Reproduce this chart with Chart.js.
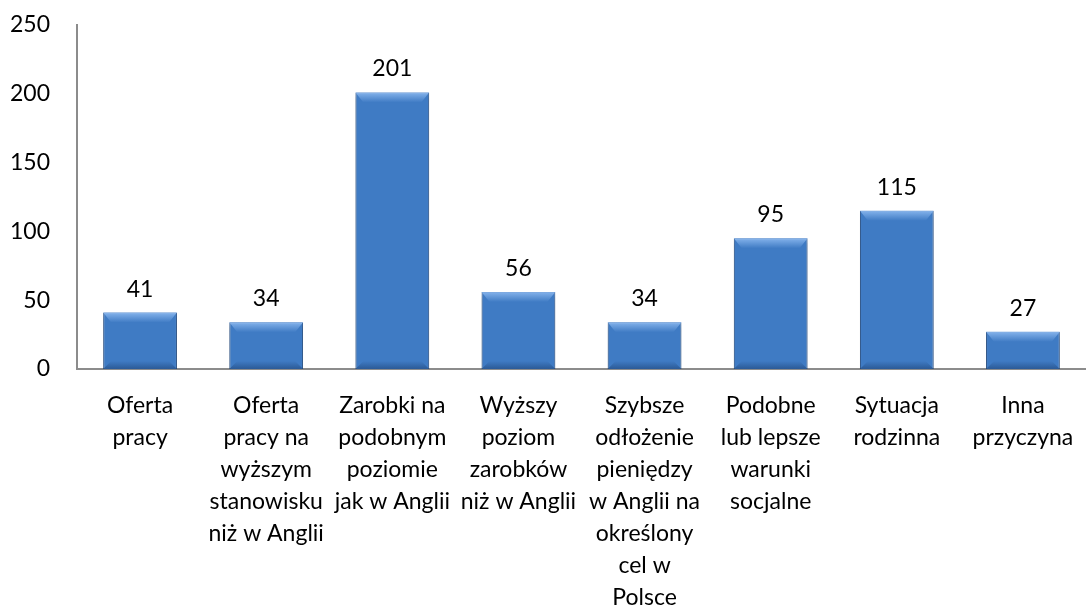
<!DOCTYPE html>
<html>
<head>
<meta charset="utf-8">
<script src="https://cdn.jsdelivr.net/npm/chart.js@4"></script>
<style>
  html, body { margin: 0; padding: 0; background: #fff; }
  #wrap { width: 1086px; height: 608px; }
</style>
</head>
<body>
<div id="wrap"><canvas id="reasonsChart" width="1086" height="608"></canvas></div>
<script>
// ---- Data ----
const categories = [
  ['Oferta', 'pracy'],
  ['Oferta', 'pracy na', 'wyższym', 'stanowisku', 'niż w Anglii'],
  ['Zarobki na', 'podobnym', 'poziomie', 'jak w Anglii'],
  ['Wyższy', 'poziom', 'zarobków', 'niż w Anglii'],
  ['Szybsze', 'odłożenie', 'pieniędzy', 'w Anglii na', 'określony', 'cel w', 'Polsce'],
  ['Podobne', 'lub lepsze', 'warunki', 'socjalne'],
  ['Sytuacja', 'rodzinna'],
  ['Inna', 'przyczyna']
];
const counts = [41, 34, 201, 56, 34, 95, 115, 27];
const yTicks = [0, 50, 100, 150, 200, 250];

const FONT = 'Lato, "Open Sans", sans-serif';

// bevel-ish fill: darker sides, lighter middle
function barFill(ctx) {
  const chart = ctx.chart;
  const el = ctx.element;
  if (!el || !chart.chartArea) return '#3f7bc4';
  const x = el.x, w = el.width;
  if (!Number.isFinite(x) || !Number.isFinite(w) || w <= 0) return '#3f7bc4';
  const half = w / 2;
  const g = chart.ctx.createLinearGradient(x - half, 0, x + half, 0);
  g.addColorStop(0, '#28558f');
  g.addColorStop(0.1, '#3670b6');
  g.addColorStop(0.5, '#3d7cc9');
  g.addColorStop(0.9, '#3670b6');
  g.addColorStop(1, '#254f87');
  return g;
}

// values above the bars + a light top highlight
const barExtras = {
  id: 'barExtras',
  beforeDatasetsDraw(chart) {
    const c = chart.ctx;
    c.save();
    c.shadowColor = 'rgba(0,0,0,0.25)';
    c.shadowBlur = 6;
    c.shadowOffsetY = 3;
  },
  afterDatasetsDraw(chart) {
    const c = chart.ctx;
    c.restore();
    const meta = chart.getDatasetMeta(0);
    c.save();
    meta.data.forEach((bar, i) => {
      const half = bar.width / 2;
      // top highlight
      const hg = c.createLinearGradient(0, bar.y, 0, bar.y + 10);
      hg.addColorStop(0, 'rgba(140,185,240,0.9)');
      hg.addColorStop(1, 'rgba(140,185,240,0)');
      c.fillStyle = hg;
      c.beginPath();
      c.moveTo(bar.x - half, bar.y);
      c.lineTo(bar.x + half, bar.y);
      c.lineTo(bar.x + half - 8, bar.y + 10);
      c.lineTo(bar.x - half + 8, bar.y + 10);
      c.closePath();
      c.fill();
      // bottom shade
      const bg = c.createLinearGradient(0, bar.base - 8, 0, bar.base);
      bg.addColorStop(0, 'rgba(20,50,95,0)');
      bg.addColorStop(1, 'rgba(20,50,95,0.45)');
      c.fillStyle = bg;
      c.beginPath();
      c.moveTo(bar.x - half + 8, bar.base - 8);
      c.lineTo(bar.x + half - 8, bar.base - 8);
      c.lineTo(bar.x + half, bar.base);
      c.lineTo(bar.x - half, bar.base);
      c.closePath();
      c.fill();
      // value label
      c.fillStyle = '#000';
      c.font = '23px ' + FONT;
      c.textAlign = 'center';
      c.textBaseline = 'bottom';
      c.fillText(String(counts[i]), bar.x, bar.y - 12);
    });
    c.restore();
  }
};

new Chart(document.getElementById('reasonsChart'), {
  type: 'bar',
  data: {
    labels: categories,
    datasets: [{
      data: counts,
      backgroundColor: barFill,
      borderColor: '#2a5690',
      borderWidth: 1,
      categoryPercentage: 1,
      barPercentage: 0.585
    }]
  },
  options: {
    responsive: false,
    animation: false,
    layout: { padding: { top: 25, right: 0, left: 0, bottom: 0 } },
    plugins: {
      legend: { display: false },
      tooltip: { enabled: false }
    },
    scales: {
      x: {
        grid: { display: false, drawTicks: false },
        border: { color: '#8c8c8c', width: 2 },
        ticks: {
          color: '#000',
          font: { family: FONT, size: 23, lineHeight: 32 / 23 },
          padding: 21,
          maxRotation: 0,
          autoSkip: false
        },
        afterFit: s => {
          s.height = 608 - 369;
          s.paddingLeft = 0;
          s.paddingRight = 0;
        }
      },
      y: {
        min: 0,
        max: 250,
        afterBuildTicks: s => { s.ticks = yTicks.map(v => ({ value: v })); },
        grid: { display: false, drawTicks: false },
        border: { color: '#8c8c8c', width: 2 },
        ticks: {
          color: '#000',
          font: { family: FONT, size: 23 },
          padding: 27
        },
        afterFit: s => {
          s.width = 77;
          s.paddingTop = 0;
          s.paddingBottom = 0;
        }
      }
    }
  },
  plugins: [barExtras]
});
</script>
</body>
</html>
